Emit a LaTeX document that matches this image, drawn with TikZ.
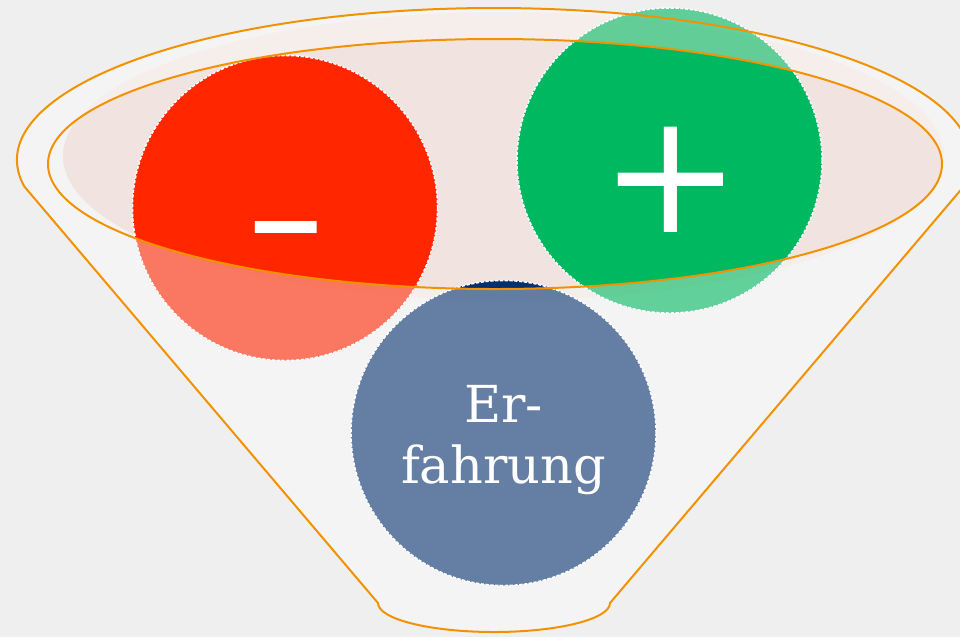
\documentclass[tikz,border=0pt]{standalone}
\usepackage{fontspec}
\newfontfamily\signfont{DejaVu Serif}
\newfontfamily\dashfont{Liberation Serif}
\newfontfamily\wordfont{DejaVu Serif}
\definecolor{backgray}{HTML}{EFEFEF}
\definecolor{funnelgray}{HTML}{F4F4F4}
\definecolor{rimorange}{HTML}{F39200}
\definecolor{rimpink}{HTML}{F6EEEB}
\definecolor{innerpink}{HTML}{F1E4E0}
\definecolor{minusred}{HTML}{FF2600}
\definecolor{plusgreen}{HTML}{00B860}
\definecolor{erfblue}{HTML}{04306F}

\begin{document}
\begin{tikzpicture}[x=0.75pt, y=-0.75pt,
  rim/.style={draw=rimorange, line width=1.5pt},
  ball/.style={circle, minimum size=228.75pt, inner sep=0pt, fill opacity=0.6,
    draw=white, draw opacity=1, line width=1.1pt, dash pattern=on 2.4pt off 1.2pt},
  signtext/.style={text=white, inner sep=0pt, anchor=base,
    font=\signfont\fontsize{#1}{#1}\selectfont}]
  \fill[backgray] (0,0) rectangle (960,637);
  \useasboundingbox (0,0) rectangle (960,637);
  % funnel body
  \fill[funnelgray] (24.25,186.4) arc[start angle=170, end angle=370, x radius=477, y radius=152]
    -- (610,603) arc[start angle=0, end angle=180, x radius=116, y radius=29] -- cycle;
  \fill[rimpink] (503.5,156) ellipse[x radius=440.5, y radius=144];
  \begin{scope}
    \clip (503.5,156) ellipse[x radius=440.5, y radius=144];
    \fill[innerpink] (495,164) ellipse[x radius=447, y radius=125];
  \end{scope}
  % balls, full colour inside the rim
  \coordinate (cminus) at (285,208);
  \coordinate (cplus) at (669.5,160.5);
  \coordinate (cerf) at (503.5,433);
  \begin{scope}
    \clip (495,164) ellipse[x radius=447, y radius=125];
    \foreach \n/\col in {minus/minusred, plus/plusgreen, erf/erfblue}
      \fill[\col] (c\n) circle[radius=152.5];
  \end{scope}
  \foreach \n/\col in {minus/minusred, plus/plusgreen, erf/erfblue}
    \node[ball, fill=\col] (\n) at (c\n) {};
  \node[signtext=192, font=\dashfont\fontsize{192}{192}\selectfont,
    xscale=0.93, yscale=0.63, transform shape] (minuslabel) at (286,265.5) {-};
  \node[signtext=126] (pluslabel) at (670.5,232) {+};
  \node[text=white, align=center, inner sep=0pt,
    font=\wordfont\fontsize{38.25}{45.75}\selectfont] (erflabel) at (503.5,440) {Er-\\fahrung};
  % rim lines on top
  \draw[rim] (24.25,186.4) arc[start angle=170, end angle=370, x radius=477, y radius=152]
    -- (610,603) arc[start angle=0, end angle=180, x radius=116, y radius=29] -- cycle;
  \draw[rim] (495,164) ellipse[x radius=447, y radius=125];
\end{tikzpicture}
\end{document}
